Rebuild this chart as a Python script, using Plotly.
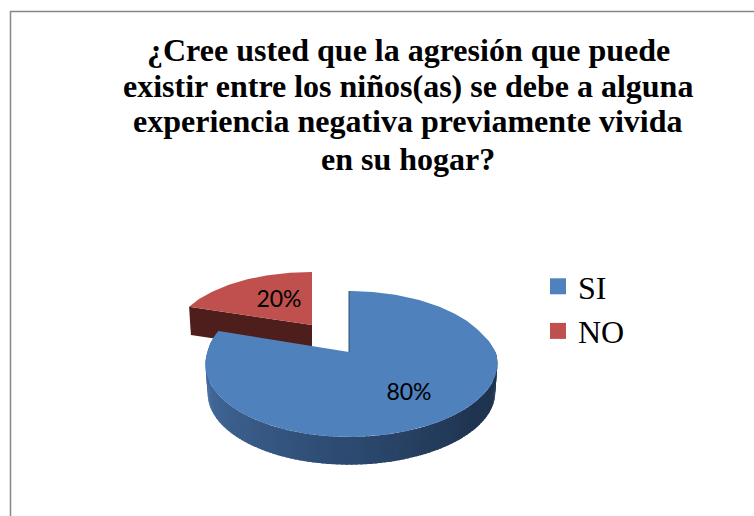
import numpy as np
import plotly.graph_objects as go

categories = ["SI", "NO"]
values = [80, 20]
labels = ["80%", "20%"]
colors_top = ["#4f81bd", "#c0504d"]
title_lines = [
    "¿Cree usted que la agresión que puede",
    "existir entre los niños(as) se debe a alguna",
    "experiencia negativa previamente vivida",
    "en su hogar?",
]
title_line_y = [50, 86, 121, 159]

# Projection of a flat disc seen in perspective (pixel units on hidden axes)
A, B, P = 144.0, 71.0, 0.164
DEPTH = 29.0


def project(theta, cx, cy, sx=1.0, sy=1.0, dy=0.0, shrink=1.0, skew=0.0):
    u, v = np.sin(theta), np.cos(theta)
    w = 1 + P * v
    shift = skew * u * u * np.clip((0.31 - v) / 0.31, 0, 1)
    return cx + shift + shrink * sx * A * u / w, cy + dy - shrink * sy * B * v / w


def lerp(c1, c2, t):
    return "rgb(%d,%d,%d)" % tuple(round(a + (b - a) * t) for a, b in zip(c1, c2))


total = sum(values)
blue_end = 2 * np.pi * values[0] / total
fig = go.Figure()
poly = dict(mode="lines", line=dict(width=0), fill="toself", hoverinfo="skip", showlegend=False)

# --- NO slice (exploded, behind) ---
rcx, rcy, rsx, rsy = 312.0, 325.0, 0.943, 0.87
t_red = np.linspace(blue_end, 2 * np.pi, 80)
rx, ry = project(t_red, rcx, rcy, rsx, rsy)
lx0, ly0 = rx[0], ry[0]
lx1, ly1 = project(np.array([blue_end]), rcx, rcy, rsx, rsy, dy=DEPTH - 1, shrink=0.985)
fig.add_trace(go.Scatter(x=[lx0, rcx, rcx, lx1[0], lx0], y=[ly0, rcy, rcy + DEPTH - 1, ly1[0], ly0],
                         fillcolor="#4e1e1d", **poly))
fig.add_trace(go.Scatter(x=np.r_[rcx, rx, rcx], y=np.r_[rcy, ry, rcy], fillcolor=colors_top[1], **poly))

# --- SI slice ---
bcx, bcy, SKEW = 349.0, 352.0, 2.5
light, mid, dark = (78, 122, 176), (47, 78, 118), (31, 52, 80)
n = 120
edges = np.linspace(blue_end, np.pi / 2, n + 1)
for i in range(n):
    th = np.linspace(edges[i] + 0.01, edges[i + 1] - 0.01, 4)
    x0, y0 = project(th, bcx, bcy, skew=SKEW)
    x1, y1 = project(th, bcx, bcy, dy=DEPTH, shrink=0.985, skew=SKEW)
    t = i / (n - 1)
    col = lerp(light, mid, t / 0.5) if t < 0.5 else lerp(mid, dark, min(1, (t - 0.5) / 0.3))
    fig.add_trace(go.Scatter(x=np.r_[x0, x1[::-1], x0[0]], y=np.r_[y0, y1[::-1], y0[0]], fillcolor=col, **poly))

t_blue = np.linspace(0, blue_end, 240)
bx, by = project(t_blue, bcx, bcy, skew=SKEW)
fig.add_trace(go.Scatter(x=np.r_[bcx, bx, bcx], y=np.r_[bcy, by, bcy], fillcolor=colors_top[0], **poly))
fig.add_trace(go.Scatter(x=[bx[0], bcx], y=[by[0], bcy], mode="lines", line=dict(color="#2f4d74", width=1),
                         hoverinfo="skip", showlegend=False))

# legend entries
for name, col in zip(categories, colors_top):
    fig.add_trace(go.Scatter(x=[None], y=[None], mode="markers", name=name,
                             marker=dict(symbol="square", size=16, color=col)))

# slice labels
fig.add_trace(go.Scatter(x=[409, 279], y=[394.5, 301], mode="text", text=labels, showlegend=False, hoverinfo="skip",
                         textposition="middle center",
                         textfont=dict(family="Lato", size=23, color="#000000")))

annotations = [
    dict(text="<b>%s</b>" % line, x=408, y=yy, xref="x", yref="y", showarrow=False, xanchor="center", yanchor="middle",
         font=dict(family="Liberation Serif", size=32, color="#000000"))
    for line, yy in zip(title_lines, title_line_y)
]

fig.update_layout(
    width=754, height=516, margin=dict(l=0, r=0, t=0, b=0),
    paper_bgcolor="white", plot_bgcolor="white",
    xaxis=dict(range=[0, 754], visible=False, fixedrange=True),
    yaxis=dict(range=[516, 0], visible=False, fixedrange=True),
    annotations=annotations,
    legend=dict(x=538 / 754, y=1 - 259 / 516, xanchor="left", yanchor="top", bgcolor="rgba(0,0,0,0)",
                font=dict(family="Liberation Serif", size=32, color="#000000")),
    shapes=[dict(type="rect", xref="x", yref="y", x0=10.5, y0=11.5, x1=790, y1=560,
                 line=dict(color="#868686", width=1.5))],
)
fig.write_html("out.html", post_script="document.body.style.margin='0';document.body.style.overflow='hidden';",
               config=dict(displayModeBar=False))
